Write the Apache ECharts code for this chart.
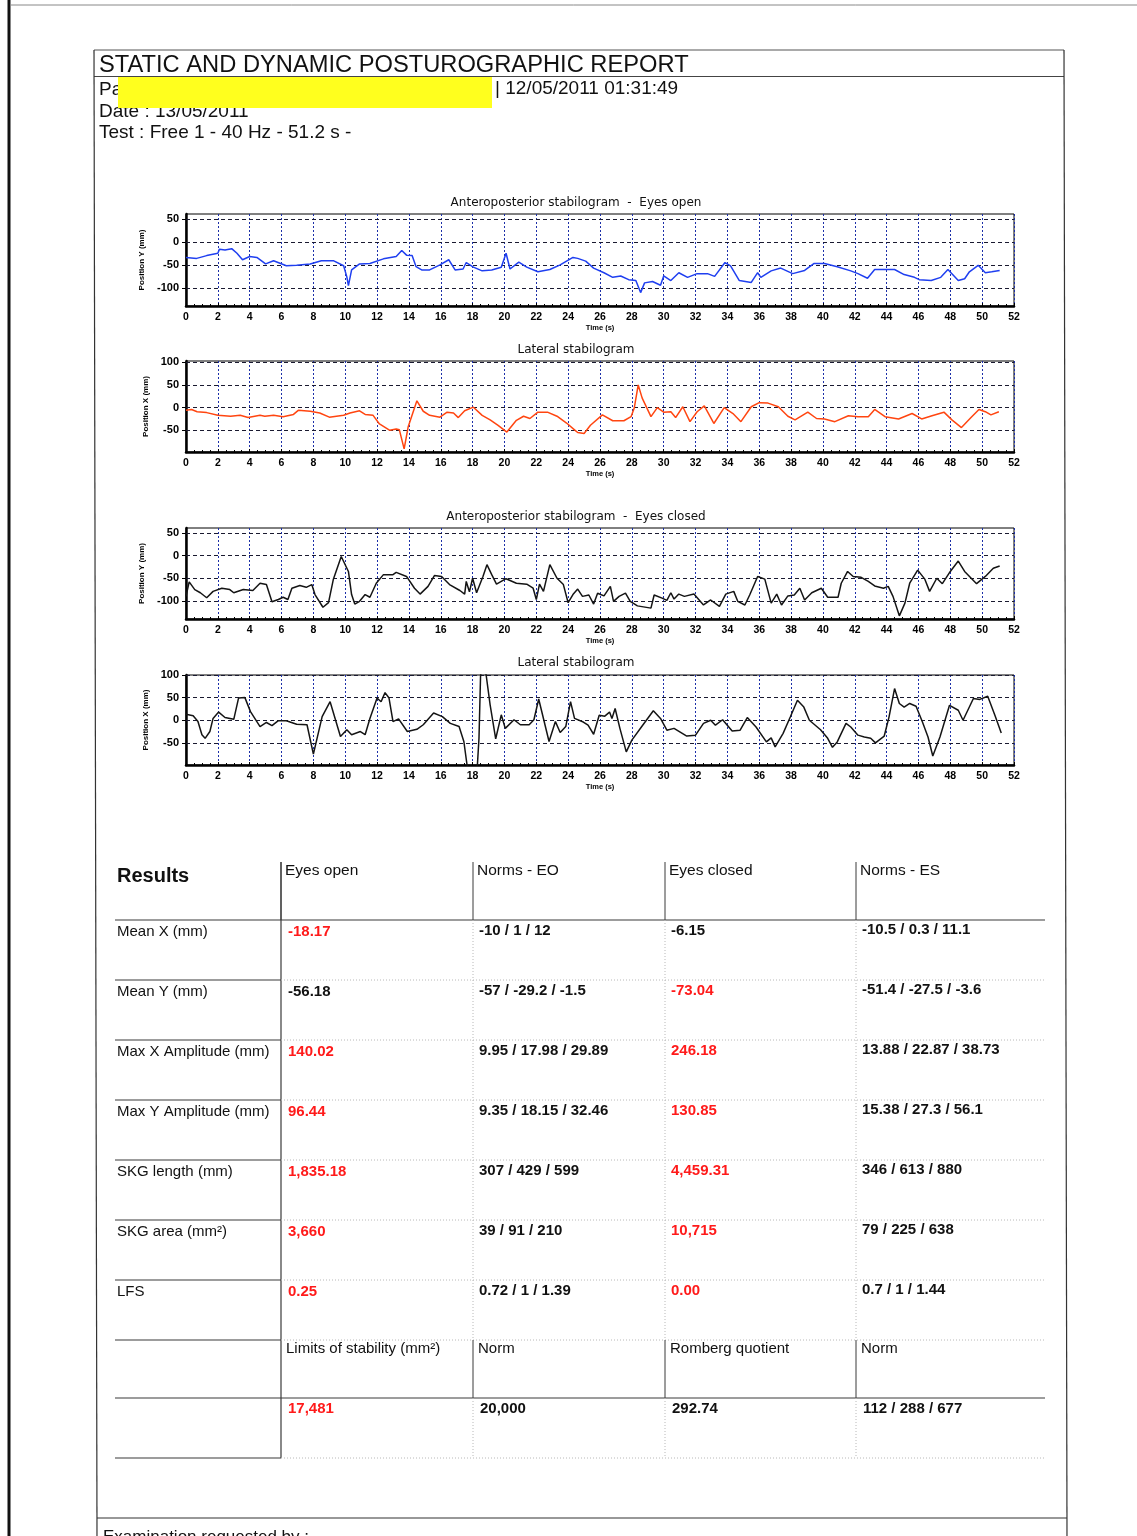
<!DOCTYPE html>
<html>
<head>
<meta charset="utf-8">
<title>Static and Dynamic Posturographic Report</title>
<script src="https://cdn.jsdelivr.net/npm/echarts@6.0.0/dist/echarts.min.js"></script>
<style>
  html, body { margin: 0; padding: 0; background: #fff; }
  #page { position: absolute; left: 0; top: 0; width: 1137px; height: 1536px; }
</style>
</head>
<body>
<div id="page"></div>
<script>
// ---- Stabilogram traces: [time (s), position (mm)] ----
const apEyesOpen = [
  [0,-33],[0.67,-35],[1.3,-29],[2,-24],[2.1,-15],[2.45,-17],[2.87,-14],[3.2,-24],[3.55,-38],[4.0,-31],
  [4.45,-33],[5.0,-47],[5.5,-40],[6.3,-51],[6.95,-50],[7.8,-47],[8.5,-40],[9.25,-40],[9.9,-51],[10.1,-75],
  [10.2,-94],[10.4,-60],[10.9,-47],[11.55,-46],[12.4,-36],[13.2,-31],[13.55,-18],[13.85,-28],[14.2,-29],[14.45,-53],
  [14.8,-60],[15.3,-60],[15.95,-49],[16.5,-38],[16.9,-60],[17.4,-58],[17.6,-44],[18.05,-54],[18.6,-62],[19.2,-60],
  [19.8,-54],[20.1,-24],[20.35,-58],[20.9,-43],[21.4,-54],[22.1,-64],[22.85,-59],[23.5,-49],[24.3,-33],[24.6,-35],
  [25.1,-41],[25.6,-56],[26.25,-66],[26.8,-76],[27.3,-73],[27.8,-81],[28.25,-83],[28.55,-109],[28.8,-88],[29.3,-85],
  [29.8,-93],[30.0,-73],[30.45,-83],[30.95,-66],[31.5,-76],[32.1,-68],[32.75,-68],[33.2,-74],[33.85,-44],[34.2,-51],
  [34.75,-83],[35.5,-87],[35.9,-66],[36.1,-76],[36.75,-62],[37.35,-56],[38.1,-68],[38.85,-61],[39.45,-46],[40.1,-46],
  [40.9,-53],[41.75,-62],[42.2,-68],[42.8,-78],[43.25,-59],[43.85,-59],[44.5,-59],[45.1,-70],[45.75,-76],[46.05,-81],
  [46.8,-83],[47.4,-76],[47.85,-59],[48.5,-83],[48.9,-79],[49.2,-64],[49.75,-50],[50.2,-66],[50.6,-64],[51.1,-61]
];
const latEyesOpen = [
  [0,-6],[0.35,-4],[0.7,-9],[1.3,-11],[2.0,-17],[2.8,-19],[3.4,-17],[3.9,-22],[4.65,-17],[4.95,-19],
  [5.5,-17],[6.1,-20],[6.75,-15],[7.05,-6],[7.8,-8],[8.4,-12],[9.0,-21],[9.9,-17],[10.3,-12],[10.9,-7],
  [11.25,-15],[11.75,-17],[12.15,-36],[12.8,-50],[13.2,-47],[13.4,-49],[13.7,-91],[13.95,-43],[14.5,15],[14.9,-8],
  [15.3,-17],[15.95,-21],[16.4,-10],[16.8,-12],[17.1,-22],[17.5,-7],[18.05,1],[18.6,-17],[19.1,-27],[19.6,-39],
  [20.15,-54],[20.75,-28],[21.2,-19],[21.6,-24],[22.1,-10],[22.7,-10],[23.3,-19],[23.9,-34],[24.4,-49],[24.6,-55],
  [25.0,-57],[25.4,-39],[26.15,-16],[26.8,-29],[27.5,-29],[27.95,-20],[28.15,-1],[28.4,50],[28.65,21],[29.2,-20],
  [29.6,0],[30.0,-10],[30.45,-9],[30.75,-22],[31.2,2],[31.65,-31],[32.1,-9],[32.55,4],[33.15,-35],[33.8,0],
  [34.35,-13],[34.85,-31],[35.5,2],[36.0,11],[36.55,10],[37.2,2],[37.8,-19],[38.25,-27],[39.05,-10],[39.6,-24],
  [40.1,-25],[40.75,-31],[41.6,-18],[42.2,-20],[42.85,-20],[43.25,-4],[43.9,-20],[44.75,-25],[45.6,-13],[46.2,-25],
  [46.85,-18],[47.6,-10],[48.1,-27],[48.7,-44],[49.3,-22],[49.8,-4],[50.2,-9],[50.55,-16],[51.05,-9]
];
const apEyesClosed = [
  [0,-90],[0.2,-58],[0.55,-75],[0.9,-82],[1.3,-93],[1.7,-79],[2.25,-72],[2.75,-75],[3.0,-82],[3.6,-75],
  [4.2,-77],[4.65,-61],[5.05,-64],[5.4,-102],[5.8,-97],[6.1,-92],[6.4,-97],[6.65,-72],[7.15,-66],[7.55,-70],
  [7.9,-64],[8.1,-86],[8.6,-114],[8.95,-104],[9.25,-53],[9.75,-2],[10.2,-35],[10.4,-86],[10.6,-107],[10.9,-101],
  [11.25,-86],[11.55,-92],[11.95,-61],[12.4,-42],[13.0,-42],[13.2,-37],[13.85,-46],[14.35,-72],[14.7,-85],[15.2,-68],
  [15.6,-44],[16.05,-46],[16.55,-64],[17.2,-77],[17.5,-85],[17.6,-57],[17.8,-80],[18.0,-50],[18.25,-82],[18.65,-46],
  [18.9,-20],[19.2,-42],[19.5,-63],[20.1,-51],[20.75,-61],[21.4,-63],[21.8,-72],[22.0,-97],[22.2,-63],[22.45,-79],
  [22.85,-20],[23.3,-50],[23.7,-64],[24.0,-104],[24.3,-86],[24.6,-74],[24.9,-90],[25.3,-87],[25.6,-107],[25.85,-83],
  [26.25,-89],[26.65,-68],[26.85,-101],[27.2,-90],[27.6,-83],[27.9,-101],[28.35,-111],[29.2,-116],[29.4,-87],[29.9,-94],
  [30.2,-99],[30.45,-82],[30.65,-96],[30.95,-85],[31.3,-90],[31.9,-85],[32.5,-109],[32.95,-98],[33.5,-112],[33.9,-85],
  [34.4,-79],[34.65,-101],[35.1,-109],[35.4,-87],[35.9,-46],[36.35,-52],[36.75,-105],[37.1,-85],[37.4,-109],[37.8,-89],
  [38.2,-87],[38.55,-72],[38.85,-98],[39.3,-82],[39.9,-72],[40.3,-92],[40.95,-92],[41.15,-61],[41.55,-35],[41.9,-46],
  [42.4,-48],[42.85,-57],[43.25,-67],[43.8,-72],[44.1,-68],[44.4,-90],[44.8,-133],[45.15,-105],[45.45,-61],[45.95,-32],
  [46.4,-52],[46.7,-79],[47.15,-50],[47.5,-62],[48.0,-35],[48.5,-12],[48.9,-35],[49.65,-62],[50.2,-46],[50.7,-28],
  [51.1,-23]
];
const latEyesClosed = [
  [0,13],[0.45,10],[0.75,-3],[1.0,-32],[1.2,-40],[1.5,-25],[1.7,4],[2.05,18],[2.45,6],[3.0,2],
  [3.3,49],[3.7,50],[4.05,19],[4.65,-14],[5.05,-5],[5.4,-12],[5.8,-1],[6.3,-1],[6.95,-9],[7.6,-10],
  [8.0,-75],[8.55,8],[9.05,41],[9.7,-36],[10.1,-21],[10.4,-32],[10.95,-25],[11.25,-32],[11.55,4],[12.0,49],
  [12.25,41],[12.5,61],[12.75,49],[13.0,-3],[13.35,3],[13.9,-25],[14.5,-20],[14.9,-10],[15.55,16],[16.1,8],
  [16.6,-7],[17.15,-14],[17.45,-47],[17.65,-99],[17.95,-126],[18.3,-99],[18.4,-40],[18.5,100],[18.7,120],[18.85,100],
  [19.1,34],[19.45,-41],[19.8,12],[20.05,-18],[20.6,1],[21.0,-10],[21.55,-10],[21.85,1],[22.15,47],[22.8,-47],
  [23.2,-3],[23.5,-27],[23.85,-14],[24.15,41],[24.4,4],[24.95,-4],[25.25,-11],[25.6,-31],[25.95,11],[26.3,9],
  [26.6,18],[26.75,4],[26.95,26],[27.25,-18],[27.65,-70],[28.0,-44],[28.6,-15],[29.35,21],[29.8,4],[30.2,-22],
  [30.65,-18],[31.45,-35],[32.0,-33],[32.5,-7],[32.95,0],[33.25,-11],[33.7,1],[34.3,-24],[34.8,-22],[35.25,6],
  [35.8,-15],[36.45,-48],[36.75,-39],[37.0,-59],[37.5,-29],[37.95,7],[38.4,44],[38.8,29],[39.15,0],[39.85,-21],
  [40.3,-40],[40.6,-60],[40.9,-48],[41.45,-7],[41.75,-15],[42.2,-33],[42.6,-37],[43.0,-40],[43.3,-50],[43.85,-35],
  [44.15,7],[44.5,70],[44.8,37],[45.1,29],[45.45,37],[45.85,31],[46.25,-4],[46.6,-37],[46.9,-79],[47.35,-37],
  [47.95,33],[48.5,22],[48.8,0],[49.45,48],[49.85,46],[50.35,53],[50.8,11],[51.2,-28]
];

// ---- Axis ticks ----
const timeMax = 52;
const timeStep = 2;
const apTicks = [-100, -50, 0, 50];
const latTicks = [-50, 0, 50, 100];
const apRangeOpen = [-138, 61];
const latRangeOpen = [-98, 103];
const apRangeClosed = [-140, 61];
const latRangeClosed = [-99, 100];

// ---- Header ----
const reportTitle = 'STATIC AND DYNAMIC POSTUROGRAPHIC REPORT';
const recordStamp = '| 12/05/2011 01:31:49';
const examDate = 'Date : 13/05/2011';
const testLine = 'Test : Free 1 - 40 Hz - 51.2 s -';
const chartTitles = [
  'Anteroposterior stabilogram  -  Eyes open',
  'Lateral stabilogram',
  'Anteroposterior stabilogram  -  Eyes closed',
  'Lateral stabilogram'
];

// ---- Results table ----
const columnHeads = ['Eyes open', 'Norms - EO', 'Eyes closed', 'Norms - ES'];
const rowLabels = ['Mean X (mm)', 'Mean Y (mm)', 'Max X Amplitude (mm)', 'Max Y Amplitude (mm)',
                   'SKG length (mm)', 'SKG area (mm\u00B2)', 'LFS'];
const eyesOpenValues = ['-18.17', '-56.18', '140.02', '96.44', '1,835.18', '3,660', '0.25'];
const eyesOpenAlert = [true, false, true, true, true, true, true];
const normsEO = ['-10 / 1 / 12', '-57 / -29.2 / -1.5', '9.95 / 17.98 / 29.89', '9.35 / 18.15 / 32.46',
                 '307 / 429 / 599', '39 / 91 / 210', '0.72 / 1 / 1.39'];
const eyesClosedValues = ['-6.15', '-73.04', '246.18', '130.85', '4,459.31', '10,715', '0.00'];
const eyesClosedAlert = [false, true, true, true, true, true, true];
const normsES = ['-10.5 / 0.3 / 11.1', '-51.4 / -27.5 / -3.6', '13.88 / 22.87 / 38.73', '15.38 / 27.3 / 56.1',
                 '346 / 613 / 880', '79 / 225 / 638', '0.7 / 1 / 1.44'];
const extraHeads = ['Limits of stability (mm\u00B2)', 'Norm', 'Romberg quotient', 'Norm'];
const extraValues = ['17,481', '20,000', '292.74', '112 / 288 / 677'];
const extraAlert = [true, false, false, false];

// ---------------------------------------------------------------
const FONT = '"Liberation Sans", Arial, sans-serif';
const WIDE = '"DejaVu Sans", Verdana, sans-serif';
const RED = '#ff1a1a';
const INK = '#111';

const plots = [
  { top: 214, height: 92, range: apRangeOpen,   ticks: apTicks,  data: apEyesOpen,   color: '#1f3ff0', yName: 'Position Y (mm)' },
  { top: 361, height: 91, range: latRangeOpen,  ticks: latTicks, data: latEyesOpen,  color: '#ff4510', yName: 'Position X (mm)' },
  { top: 528, height: 91, range: apRangeClosed, ticks: apTicks,  data: apEyesClosed, color: '#141414', yName: 'Position Y (mm)' },
  { top: 675, height: 90, range: latRangeClosed,ticks: latTicks, data: latEyesClosed,color: '#141414', yName: 'Position X (mm)' }
];
const titleY = [203, 350, 517, 663];

const grids = plots.map(p => ({
  left: 186, width: 828, top: p.top, height: p.height,
  show: true, borderColor: '#000', borderWidth: 1, backgroundColor: 'transparent'
}));

const xAxes = plots.map((p, i) => ({
  gridIndex: i, type: 'value', min: 0, max: timeMax, interval: timeStep,
  axisLine: { show: true, onZero: false, lineStyle: { color: '#000', width: 2.5 } },
  axisTick: { show: true, inside: true, length: 3, lineStyle: { color: '#000' } },
  minorTick: { show: true, splitNumber: 4, length: 2, lineStyle: { color: '#000' } },
  axisLabel: { color: '#000', fontSize: 10.5, fontWeight: 'bold', fontFamily: FONT, margin: 6 },
  splitLine: { show: true, lineStyle: { color: '#1c2fa8', type: [2, 2], width: 1 } },
  name: 'Time (s)', nameLocation: 'middle', nameGap: 16,
  nameTextStyle: { fontSize: 7.5, fontWeight: 'bold', color: '#000', fontFamily: FONT }
}));

const yAxes = plots.map((p, i) => ({
  gridIndex: i, type: 'value', min: p.range[0], max: p.range[1],
  splitLine: { show: false },
  axisLine: { show: true, lineStyle: { color: '#000', width: 2.5 } },
  axisTick: { show: true, customValues: p.ticks, length: 4, lineStyle: { color: '#000' } },
  axisLabel: { customValues: p.ticks, color: '#000', fontSize: 11, fontWeight: 'bold', fontFamily: FONT, margin: 7 },
  name: p.yName, nameLocation: 'middle', nameGap: 31, nameRotate: 90,
  nameTextStyle: { fontSize: 8, fontWeight: 'bold', color: '#000', fontFamily: FONT }
}));

const series = plots.map((p, i) => ({
  type: 'line', xAxisIndex: i, yAxisIndex: i, data: p.data,
  symbol: 'none', showSymbol: false, clip: true, z: 3,
  lineStyle: { color: p.color, width: 1.5 },
  markLine: {
    silent: true, symbol: 'none', z: 1, animation: false,
    label: { show: false },
    lineStyle: { color: '#1a1a30', type: [4, 3], width: 1 },
    data: p.ticks.map(v => ({ yAxis: v }))
  }
}));

// ---- page furniture drawn as graphic elements ----
const graphic = [];
function line(x1, y1, x2, y2, stroke, width, dash) {
  graphic.push({ type: 'line', silent: true, z: 10,
    shape: { x1, y1, x2, y2 },
    style: { stroke, lineWidth: width || 1, lineDash: dash || null } });
}
function text(x, y, str, size, opts) {
  opts = opts || {};
  graphic.push({ type: 'text', silent: true, z: opts.z || 12, x, y,
    style: { text: str, font: (opts.bold ? 'bold ' : '') + size + 'px ' + (opts.family || FONT),
             fill: opts.fill || INK, align: opts.align || 'left', verticalAlign: 'middle' } });
}

// scan edges
line(9, 0, 9, 1536, '#111', 3);
line(10, 5, 1137, 5, '#888', 1);

// report frame
line(94, 50, 1064, 50, '#555', 1);
line(94, 76.5, 1064, 76.5, '#444', 1);
line(94, 50, 97, 1536, '#333', 1.2);
line(1064, 50, 1067, 1536, '#333', 1.2);
line(97, 1518, 1067, 1518, '#333', 1.2);

// header text
text(99, 65, reportTitle, 23.7);
text(99, 90, 'Pa', 19);
text(495, 89, recordStamp, 19);
text(99, 112, examDate, 19);
graphic.push({ type: 'rect', silent: true, z: 13, shape: { x: 118, y: 77, width: 374, height: 31 },
  style: { fill: '#ffff1e' } });
text(99, 133, testLine, 19);

// chart titles
chartTitles.forEach((t, i) => text(576, titleY[i], t, 12, { align: 'center', family: WIDE }));

// results table
const colX = [115, 281, 473, 665, 856, 1045];
const rowY = [920, 980, 1040, 1100, 1160, 1220, 1280, 1340, 1398, 1458];
const DARK = '#3a3a3a';
const LIGHT = '#b8b8b8';
const DOT = [1, 2];

text(117, 876, 'Results', 20, { bold: true });
columnHeads.forEach((h, j) => text(colX[j + 1] + 4, 871, h, 15.5));
for (let j = 1; j <= 4; j++) line(colX[j], 862, colX[j], 920, DARK, 1);
line(colX[0], 920, colX[5], 920, DARK, 1.2);
line(colX[1], 862, colX[1], 1458, DARK, 1.2);

rowY.slice(1).forEach((y, k) => {
  line(colX[0], y, colX[1], y, DARK, 1.2);
  const solid = (y === 1398);
  line(colX[1], y, colX[5], y, solid ? DARK : LIGHT, 1, solid ? null : DOT);
});
for (let j = 2; j <= 4; j++) {
  line(colX[j], 920, colX[j], 1340, LIGHT, 1, DOT);
  line(colX[j], 1340, colX[j], 1398, DARK, 1);
  line(colX[j], 1398, colX[j], 1458, LIGHT, 1, DOT);
}

rowLabels.forEach((lab, r) => {
  const y = rowY[r] + 12;
  text(117, y, lab, 15);
  text(colX[1] + 7, y, eyesOpenValues[r], 15, { bold: true, fill: eyesOpenAlert[r] ? RED : INK });
  text(colX[2] + 6, y - 1, normsEO[r], 15, { bold: true });
  text(colX[3] + 6, y - 1, eyesClosedValues[r], 15, { bold: true, fill: eyesClosedAlert[r] ? RED : INK });
  text(colX[4] + 6, y - 2, normsES[r], 15, { bold: true });
});
extraHeads.forEach((h, j) => text(colX[j + 1] + 5, 1349, h, 15));
extraValues.forEach((v, j) => text(colX[j + 1] + 7, 1409, v, 15, { bold: true, fill: extraAlert[j] ? RED : INK }));

// footer
text(103, 1537, 'Examination requested by :', 17);

const chart = echarts.init(document.getElementById('page'), null, { renderer: 'canvas', width: 1137, height: 1536 });
chart.setOption({
  animation: false,
  backgroundColor: '#ffffff',
  textStyle: { fontFamily: FONT },
  grid: grids,
  xAxis: xAxes,
  yAxis: yAxes,
  series: series,
  graphic: graphic
});
</script>
</body>
</html>
